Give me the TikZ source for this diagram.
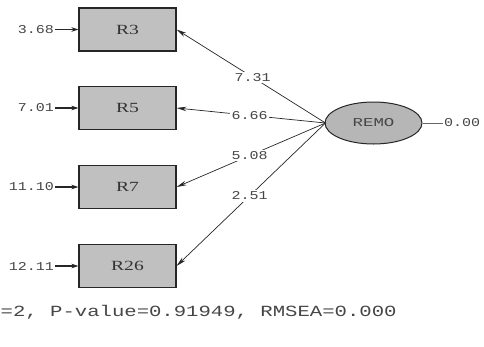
\documentclass[tikz,border=0pt]{standalone}
\usepackage{fontspec}
\usepackage{graphicx}
\setmainfont{Liberation Serif}
\newfontfamily\monof{Liberation Mono}
\usetikzlibrary{arrows.meta,shapes.geometric}
\definecolor{boxgray}{RGB}{192,192,192}
\definecolor{latgray}{RGB}{182,182,182}
\definecolor{txtgray}{RGB}{70,70,70}
\newcommand\sx[2]{\scalebox{#1}[1]{#2}}
\begin{document}
\begin{tikzpicture}[x=1pt,y=-1pt,
 obs/.style={draw=black!85, line width=1.1pt, fill=boxgray, minimum width=97pt, minimum height=43pt, inner sep=0pt, font=\fontsize{14}{14}\selectfont, text=black!80},
 lat/.style={ellipse, draw=black!85, line width=1pt, fill=latgray, minimum width=97pt, minimum height=42pt, inner sep=0pt, font=\monof\fontsize{12}{12}\selectfont, text=txtgray},
 num/.style={font=\monof\fontsize{12}{12}\selectfont, text=txtgray, inner sep=1pt},
 lbl/.style={num, fill=white, inner sep=1.5pt},
 arr/.style={-{Stealth[length=10pt,width=4.5pt]}, line width=0.7pt, draw=black!85},
 earr/.style={-{Stealth[length=7pt,width=4.5pt]}, line width=1.1pt, draw=black!85},
]
\useasboundingbox (0,0) rectangle (484,346);
% observed variables
\node[obs] (r3) at (127.5,29.5) {\sx{1.4}{R3}};
\node[obs] (r5) at (127.5,108) {\sx{1.4}{R5}};
\node[obs] (r7) at (127.5,187) {\sx{1.4}{R7}};
\node[obs] (r26) at (127.5,266) {\sx{1.4}{R26}};
% latent
\node[lat] (remo) at (373.5,123) {\sx{1.45}{REMO}};
\coordinate (src) at (325.5,123);
% error variances
\node[num, anchor=east] (e3) at (55,29.5) {\sx{1.25}{3.68}};
\node[num, anchor=east] (e5) at (55,108) {\sx{1.25}{7.01}};
\node[num, anchor=east] (e7) at (55,187) {\sx{1.25}{11.10}};
\node[num, anchor=east] (e26) at (55,266) {\sx{1.25}{12.11}};
\draw[earr] (e3) -- (r3);
\draw[earr] (e5) -- (r5);
\draw[earr] (e7) -- (r7);
\draw[earr] (e26) -- (r26);
% loadings
\draw[arr] (src) -- node[lbl, pos=0.49] (l3) {\sx{1.25}{7.31}} (r3.east);
\draw[arr] (src) -- node[lbl, pos=0.51] (l5) {\sx{1.25}{6.66}} (r5.east);
\draw[arr] (src) -- node[lbl, pos=0.51] (l7) {\sx{1.25}{5.08}} (r7.east);
\draw[arr] (src) -- node[lbl, pos=0.51] (l26) {\sx{1.25}{2.51}} (r26.east);
% latent variance
\node[num, anchor=west] (v) at (443,123) {\sx{1.25}{0.00}};
\draw[line width=0.5pt, draw=black!60] (remo.east) -- (v.west);
% fit statistics
\node[font=\monof\fontsize{15.5}{16}\selectfont, text=txtgray, anchor=west, inner sep=0pt] (fit) at (0.5,312) {\sx{1.33}{=2, P-value=0.91949, RMSEA=0.000}};
\end{tikzpicture}
\end{document}
